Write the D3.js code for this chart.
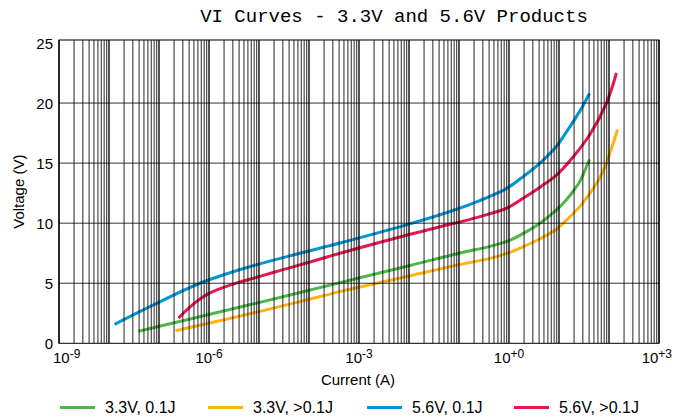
<!DOCTYPE html>
<html><head><meta charset="utf-8">
<script src="https://cdn.jsdelivr.net/npm/d3@7"></script>
<style>body{margin:0;background:#fff}svg{display:block}</style>
</head><body>
<script>
const titleText = "VI Curves - 3.3V and 5.6V Products";
const xLabel = "Current (A)";
const yLabel = "Voltage (V)";
const seriesNames = ["3.3V, 0.1J", "3.3V, >0.1J", "5.6V, 0.1J", "5.6V, >0.1J"];
const seriesColors = ["#4db848", "#fdb515", "#0096d6", "#e8174f"];
const xTickExponents = [-9, -6, -3, 0, 3];
const xTickLabels = ["-9", "-6", "-3", "+0", "+3"];
const yTicks = [0, 5, 10, 15, 20, 25];

// [current (A), voltage (V)]
const green33 = [[3.9e-8,1.0],[3.16e-7,1.9],[3.16e-6,2.9],[3.16e-5,3.9],[4.17e-4,5.05],[0.01,6.45],[0.1,7.5],[0.4,8.05],[1.0,8.55],[1.95,9.15],[4.17,10.0],[8.9,11.1],[14.1,11.95],[19.5,12.7],[26.3,13.5],[33,14.4],[40.7,15.3]];
const orange33 = [[2.14e-7,1.05],[3.16e-6,2.15],[6.6e-5,3.47],[4.17e-4,4.3],[0.01,5.6],[0.1,6.55],[0.4,7.05],[1.0,7.55],[1.95,8.05],[4.17,8.7],[8.9,9.5],[14.1,10.25],[26.3,11.4],[41.7,12.5],[66,13.8],[89,15.0],[148,17.8]];
const blue56 = [[1.29e-8,1.58],[6.6e-8,3.05],[6.6e-7,5.0],[6.6e-6,6.38],[6.6e-5,7.5],[4.17e-4,8.35],[8.9e-3,9.86],[4.17e-2,10.7],[0.195,11.67],[0.9,12.9],[1.95,13.9],[4.17,15.0],[8.9,16.4],[14.1,17.6],[26.3,19.35],[40.7,20.8]];
const red56 = [[2.45e-7,2.1],[5e-7,3.3],[1e-6,4.15],[3.16e-6,4.95],[1e-5,5.55],[3.16e-5,6.15],[1e-4,6.75],[4.17e-4,7.5],[8.9e-3,9.0],[4.17e-2,9.7],[0.195,10.4],[0.9,11.25],[1.95,12.1],[4.17,13.0],[8.9,14.0],[19.5,15.55],[41.7,17.4],[89,20.0],[141,22.5]];
const seriesData = [green33, orange33, blue56, red56];

const W = 674, H = 420;
const L = 59, R = 659, T = 40, B = 343.3;
const svg = d3.select("body").append("svg").attr("width", W).attr("height", H);
const x = d3.scaleLog().domain([1e-9, 1e3]).range([L, R]);
const y = d3.scaleLinear().domain([0, 25.25]).range([B, T]);
const sans = "'Liberation Sans', Arial, Helvetica, sans-serif";

// curves
const line = d3.line().x(d => x(d[0])).y(d => y(d[1])).curve(d3.curveCatmullRom.alpha(0.5));
seriesData.forEach((s, i) => {
  svg.append("path").attr("d", line(s)).attr("fill", "none")
    .attr("stroke", seriesColors[i]).attr("stroke-width", 3).attr("stroke-linecap", "butt");
});

// grid (drawn over curves)
const g = svg.append("g");
const vVals = [];
for (let k = -9; k < 3; k++) for (let m = 1; m <= 9; m++) vVals.push(m * Math.pow(10, k));
vVals.push(1e3);
g.selectAll("line.v").data(vVals).join("line")
  .attr("x1", d => x(d)).attr("x2", d => x(d)).attr("y1", T).attr("y2", B)
  .attr("stroke", "#000").attr("stroke-opacity", 0.85)
  .attr("stroke-width", d => Math.abs(Math.log10(d) - Math.round(Math.log10(d))) < 1e-9 ? 1.6 : 1);
g.selectAll("line.h").data([5, 10, 15, 20]).join("line")
  .attr("x1", L).attr("x2", R).attr("y1", d => y(d)).attr("y2", d => y(d))
  .attr("stroke", "#000").attr("stroke-opacity", 0.8).attr("stroke-width", 1);
g.append("rect").attr("x", L).attr("y", T).attr("width", R - L).attr("height", B - T)
  .attr("fill", "none").attr("stroke", "#000").attr("stroke-width", 1);

// y tick labels
svg.selectAll("text.yt").data(yTicks).join("text")
  .attr("x", 53).attr("y", d => y(d) + 5.5).attr("text-anchor", "end")
  .attr("font-family", sans).attr("font-size", 15).attr("fill", "#000").text(d => d);

// x tick labels
xTickExponents.forEach((e, i) => {
  const t = svg.append("text").attr("y", 363).attr("font-family", sans).attr("font-size", 15).attr("fill", "#000");
  let anchor = "middle", xx = x(Math.pow(10, e));
  if (i === 0) { anchor = "start"; xx = xx - 6; }
  if (i === xTickExponents.length - 1) { anchor = "end"; xx = xx + 13; }
  t.attr("x", xx).attr("text-anchor", anchor);
  t.append("tspan").text("10");
  t.append("tspan").attr("dy", -5).attr("font-size", 12).text(xTickLabels[i]);
});

// axis titles
svg.append("text").attr("x", 358).attr("y", 385).attr("text-anchor", "middle")
  .attr("font-family", sans).attr("font-size", 15).text(xLabel);
svg.append("text").attr("transform", `translate(24,${(T + B) / 2}) rotate(-90)`).attr("text-anchor", "middle")
  .attr("font-family", sans).attr("font-size", 15).text(yLabel);

// title
svg.append("text").attr("x", 394).attr("y", 22).attr("text-anchor", "middle")
  .attr("font-family", "'Courier New', Courier, 'Liberation Mono', monospace").attr("font-size", 19)
  .attr("fill", "#000").text(titleText);

// legend
const legX = [60, 208, 367, 514];
seriesNames.forEach((n, i) => {
  svg.append("line").attr("x1", legX[i]).attr("x2", legX[i] + 35).attr("y1", 407.5).attr("y2", 407.5)
    .attr("stroke", seriesColors[i]).attr("stroke-width", 3);
  svg.append("text").attr("x", legX[i] + 45).attr("y", 413).attr("font-family", sans).attr("font-size", 16)
    .attr("fill", "#000").text(n);
});
</script>
</body></html>
